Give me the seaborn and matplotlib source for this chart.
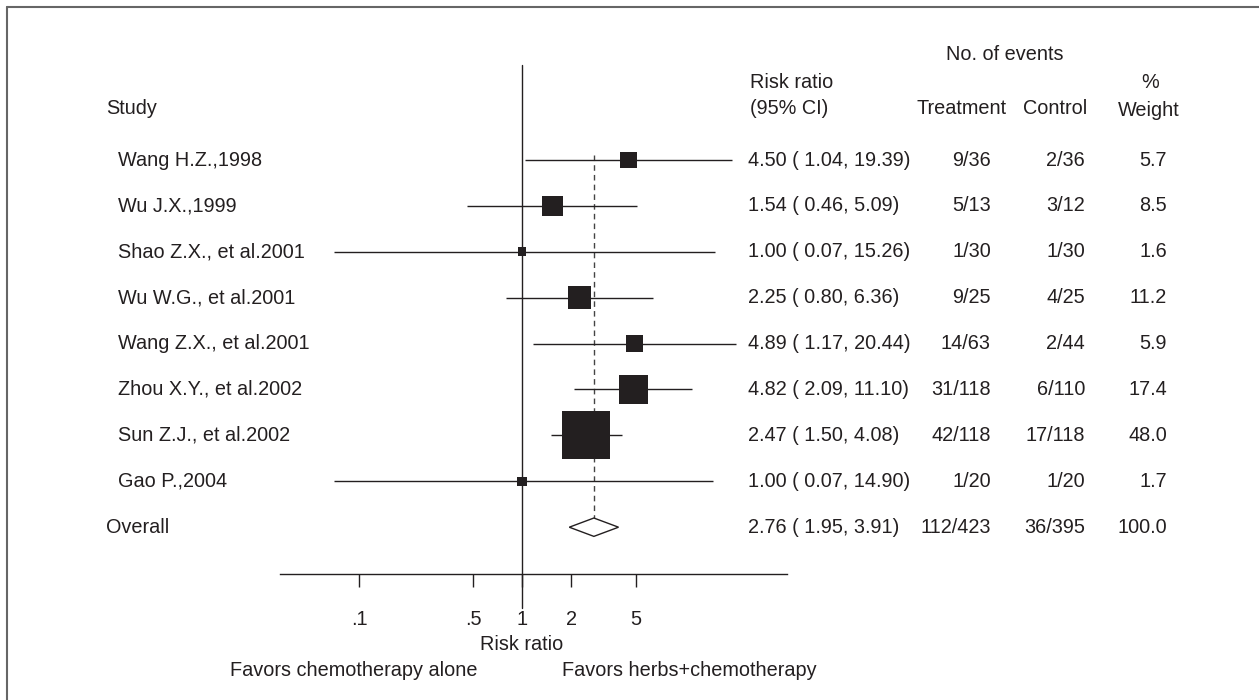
import numpy as np
import pandas as pd
import matplotlib
matplotlib.use('Agg')
import matplotlib.pyplot as plt
import matplotlib.transforms as mtransforms
from matplotlib.lines import Line2D
from matplotlib.ticker import NullLocator
import seaborn as sns

# ---- data ----
studies = ['Wang H.Z.,1998', 'Wu J.X.,1999', 'Shao Z.X., et al.2001', 'Wu W.G., et al.2001',
           'Wang Z.X., et al.2001', 'Zhou X.Y., et al.2002', 'Sun Z.J., et al.2002', 'Gao P.,2004']
rr = [4.50, 1.54, 1.00, 2.25, 4.89, 4.82, 2.47, 1.00]
ci_lo = [1.04, 0.46, 0.07, 0.80, 1.17, 2.09, 1.50, 0.07]
ci_hi = [19.39, 5.09, 15.26, 6.36, 20.44, 11.10, 4.08, 14.90]
treat = ['9/36', '5/13', '1/30', '9/25', '14/63', '31/118', '42/118', '1/20']
ctrl = ['2/36', '3/12', '1/30', '4/25', '2/44', '6/110', '17/118', '1/20']
weight = [5.7, 8.5, 1.6, 11.2, 5.9, 17.4, 48.0, 1.7]

overall_rr = 2.76
overall_lo = 1.95
overall_hi = 3.91
overall_treat = '112/423'
overall_ctrl = '36/395'
overall_weight = 100.0

tick_vals = [0.1, 0.5, 1, 2, 5]
tick_labels = ['.1', '.5', '1', '2', '5']

df = pd.DataFrame({'study': studies, 'rr': rr, 'lo': ci_lo, 'hi': ci_hi,
                   'treat': treat, 'ctrl': ctrl, 'weight': weight})
df['row'] = np.arange(len(df))
overall_row = len(df)

# ---- style ----
sns.set_style('white')
plt.rcParams['font.family'] = ['Liberation Sans', 'DejaVu Sans']
ink = '#231f20'
fs = 14.3

W, H = 1259, 700
ROW0, STEP = 160, 45.9          # pixel y of first row, row spacing
X1, DEC = 522, 163              # pixel x of RR=1, pixels per decade
AX_L, AX_R, AX_T, AX_B = 280, 787, 65, 574

def px_row(y):
    return (y - ROW0) / STEP

def ci_text(est, lo, hi):
    return '%.2f ( %.2f, %.2f)' % (est, lo, hi)

fig = plt.figure(figsize=(W / 100, H / 100), dpi=100)
ax = fig.add_axes([AX_L / W, 1 - AX_B / H, (AX_R - AX_L) / W, (AX_B - AX_T) / H])
ax.set_xscale('log')

# CI lines
ax.hlines(df['row'], df['lo'], df['hi'], color=ink, linewidth=1.0, zorder=2)

# weighted squares (area proportional to weight)
sns.scatterplot(data=df, x='rr', y='row', size='weight', sizes=(0, 1194), size_norm=(0, 48),
                marker='s', color=ink, linewidth=0, legend=False, ax=ax, zorder=3)

# overall diamond
dh = 0.2
ax.fill([overall_lo, overall_rr, overall_hi, overall_rr],
        [overall_row, overall_row - dh, overall_row, overall_row + dh],
        facecolor='white', edgecolor=ink, linewidth=1.0, zorder=4)

# limits
ax.set_xlim(10 ** ((AX_L - X1) / DEC), 10 ** ((AX_R - X1) / DEC))
ax.set_ylim(px_row(AX_B), px_row(AX_T))

# line of no effect and overall estimate
ax.plot([1, 1], [px_row(AX_T), px_row(608)], color=ink, linewidth=1.0, clip_on=False, zorder=1)
ax.plot([overall_rr, overall_rr], [px_row(155), px_row(535)], color='#444444',
        linewidth=1.0, dashes=(4, 3), zorder=1)

# axis
for s in ['top', 'left', 'right']:
    ax.spines[s].set_visible(False)
ax.spines['bottom'].set_color(ink)
ax.spines['bottom'].set_linewidth(1.0)
ax.set_yticks([])
ax.set_xticks(tick_vals)
ax.set_xticklabels(tick_labels)
ax.xaxis.set_minor_locator(NullLocator())
ax.tick_params(axis='x', direction='out', length=9, width=1, pad=17,
               labelsize=fs, colors=ink, bottom=True)
ax.set_xlabel('')
ax.set_ylabel('')

fig.text(X1 / W, 1 - 645 / H, 'Risk ratio', ha='center', va='center', fontsize=fs, color=ink)
fig.text(478 / W, 1 - 670 / H, 'Favors chemotherapy alone', ha='right', va='center', fontsize=fs, color=ink)
fig.text(562 / W, 1 - 670 / H, 'Favors herbs+chemotherapy', ha='left', va='center', fontsize=fs, color=ink)

# headers
hdr = dict(va='center', fontsize=fs, color=ink)
fig.text(106 / W, 1 - 108 / H, 'Study', ha='left', **hdr)
fig.text(1005 / W, 1 - 55 / H, 'No. of events', ha='center', **hdr)
fig.text(750 / W, 1 - 82 / H, 'Risk ratio', ha='left', **hdr)
fig.text(750 / W, 1 - 108 / H, '(95% CI)', ha='left', **hdr)
fig.text(962 / W, 1 - 108 / H, 'Treatment', ha='center', **hdr)
fig.text(1055 / W, 1 - 108 / H, 'Control', ha='center', **hdr)
fig.text(1150 / W, 1 - 83 / H, '%', ha='center', **hdr)
fig.text(1149 / W, 1 - 110 / H, 'Weight', ha='center', **hdr)

# row texts
trans = mtransforms.blended_transform_factory(fig.transFigure, ax.transData)
rtxt = dict(va='center', fontsize=fs, color=ink, transform=trans)
for _, r in df.iterrows():
    y = r['row']
    ax.text(118 / W, y, r['study'], ha='left', **rtxt)
    ax.text(748 / W, y, ci_text(r['rr'], r['lo'], r['hi']), ha='left', **rtxt)
    ax.text(991 / W, y, r['treat'], ha='right', **rtxt)
    ax.text(1085 / W, y, r['ctrl'], ha='right', **rtxt)
    ax.text(1167 / W, y, '%.1f' % r['weight'], ha='right', **rtxt)

ax.text(106 / W, overall_row, 'Overall', ha='left', **rtxt)
ax.text(748 / W, overall_row, ci_text(overall_rr, overall_lo, overall_hi), ha='left', **rtxt)
ax.text(991 / W, overall_row, overall_treat, ha='right', **rtxt)
ax.text(1085 / W, overall_row, overall_ctrl, ha='right', **rtxt)
ax.text(1167 / W, overall_row, '%.1f' % overall_weight, ha='right', **rtxt)

# frame (left and top edges only visible)
fig.add_artist(Line2D([7 / W, 7 / W], [0, 1 - 7 / H], color='#666666', linewidth=1.5))
fig.add_artist(Line2D([7 / W, 1], [1 - 7 / H, 1 - 7 / H], color='#666666', linewidth=1.5))

fig.savefig('out.png', dpi=100)
